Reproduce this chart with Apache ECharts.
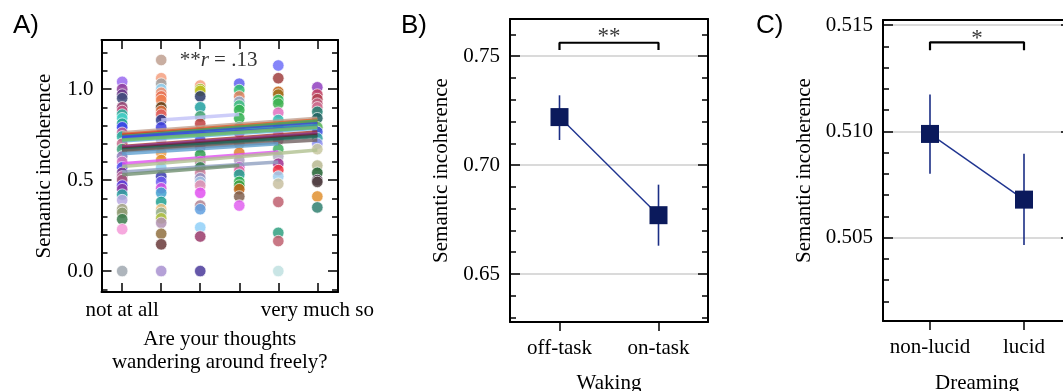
<!DOCTYPE html>
<html>
<head>
<meta charset="utf-8">
<script src="https://cdn.jsdelivr.net/npm/echarts@6/dist/echarts.min.js"></script>
<style>
  html, body { margin: 0; padding: 0; background: #fff; }
  #chart { width: 1063px; height: 391px; }
</style>
</head>
<body>
<div id="chart"></div>
<script>
// ---- panel A: per-participant ratings (6 scale levels) ----
const scaleLevels = [0, 1, 2, 3, 4, 5];
const scaleLabels = { 0: "not at all", 5: "very much so" };

const dotValues = [
  [1.04, 1.0, 0.97, 0.95, 0.9, 0.88, 0.86, 0.84, 0.81, 0.79, 0.76, 0.74, 0.7, 0.67, 0.63, 0.6, 0.57, 0.54, 0.52, 0.5, 0.47, 0.45, 0.42, 0.39, 0.34, 0.32, 0.285, 0.23, 0.0],
  [1.16, 1.06, 1.03, 1.0, 0.98, 0.96, 0.94, 0.9, 0.88, 0.86, 0.83, 0.79, 0.72, 0.65, 0.61, 0.57, 0.52, 0.49, 0.455, 0.43, 0.38, 0.34, 0.32, 0.29, 0.265, 0.205, 0.147, 0.0],
  [1.02, 1.0, 0.99, 0.96, 0.9, 0.85, 0.81, 0.76, 0.72, 0.68, 0.64, 0.6, 0.57, 0.54, 0.51, 0.49, 0.47, 0.43, 0.36, 0.34, 0.24, 0.19, 0.0],
  [1.03, 0.995, 0.96, 0.93, 0.91, 0.885, 0.84, 0.79, 0.76, 0.7, 0.65, 0.61, 0.57, 0.55, 0.53, 0.49, 0.47, 0.45, 0.41, 0.36],
  [1.13, 1.06, 0.985, 0.97, 0.94, 0.92, 0.87, 0.83, 0.79, 0.75, 0.72, 0.67, 0.63, 0.59, 0.555, 0.52, 0.48, 0.38, 0.21, 0.165, 0.0],
  [1.01, 0.97, 0.945, 0.92, 0.9, 0.875, 0.84, 0.79, 0.765, 0.73, 0.7, 0.67, 0.58, 0.54, 0.5, 0.49, 0.41, 0.35]
];
const dotColors = [
  ["#9b6bf0", "#8e3c9a", "#6a3a8a", "#3e4a7a", "#8e3b6b", "#c05080", "#2bb5a0", "#45d0c8", "#20a090", "#3b3bf0", "#c06090", "#25b0a0", "#c46a8a", "#3aa07a", "#8c7ab8", "#d070c0", "#4b4bef", "#7a3a8a", "#c070a0", "#a0507a", "#5a3ae0", "#8a3aa0", "#2aa0a0", "#b8a8e0", "#a0a080", "#8c9a70", "#3a7a4a", "#f59ad8", "#a0a8b0"],
  ["#c0a090", "#f5a080", "#a0a0a0", "#90d0f0", "#f09070", "#e87050", "#f08050", "#5a3a10", "#e07040", "#e06060", "#2a3a8a", "#4040e0", "#c8b8d8", "#f0a050", "#e0902a", "#90d0f0", "#3a3ab0", "#6a5af0", "#d050e0", "#40a0d0", "#20a090", "#f0c080", "#90b090", "#b0c040", "#b090b0", "#907040", "#6a3a3a", "#a890d0"],
  ["#f5a080", "#a0c020", "#c0c020", "#2a3a6a", "#20a0a0", "#40a070", "#c04040", "#b070b0", "#5050e0", "#9060a0", "#30a050", "#c080a0", "#308050", "#d080a0", "#9090c0", "#a0c0e0", "#e090b0", "#e050f0", "#b08090", "#60a0e0", "#90d0f8", "#9a3a6a", "#4a3a9a"],
  ["#6060f0", "#30c070", "#e08060", "#90a8c8", "#40c080", "#30b050", "#30b050", "#40b0a0", "#c060a0", "#a09080", "#e08030", "#b0a0c0", "#d040d0", "#e070a0", "#20a090", "#30b050", "#40a040", "#c06010", "#806050", "#e060f0"],
  ["#7070f8", "#a04040", "#c06010", "#a07020", "#30c060", "#40b050", "#e070c0", "#30c0b0", "#5050f0", "#d080c0", "#a05080", "#40b060", "#b0b0c0", "#a03090", "#f03040", "#a0d0f0", "#c8c0a0", "#c06070", "#30a080", "#c06070", "#c0e0e0"],
  ["#9040c0", "#c04060", "#b04050", "#c06080", "#d07090", "#208070", "#206060", "#50b050", "#4050e0", "#30a0a0", "#9090f0", "#c8c8a0", "#b8b890", "#206030", "#503050", "#504040", "#e09030", "#308070"]
];

// per-participant regression fits: start level/value, end level/value
const fitStartX = [0, 0, 0, 0, 0, 0, 0, 0, 0, 0, 0, 0, 0, 0, 0, 0, 0, 0, 0, 0, 1];
const fitStartY = [0.76, 0.75, 0.745, 0.74, 0.735, 0.725, 0.73, 0.715, 0.72, 0.685, 0.68, 0.675, 0.67, 0.665, 0.66, 0.645, 0.59, 0.575, 0.545, 0.53, 0.83];
const fitEndX = [5, 5, 5, 5, 5, 5, 5, 5, 5, 5, 5, 5, 5, 5, 5, 4, 4, 5, 4, 3, 3];
const fitEndY = [0.84, 0.83, 0.82, 0.825, 0.81, 0.8, 0.79, 0.785, 0.79, 0.765, 0.755, 0.75, 0.745, 0.74, 0.72, 0.7, 0.655, 0.665, 0.6, 0.58, 0.86];
const fitColors = ["#c0a090", "#e06030", "#d03030", "#40b060", "#3050e0", "#30a0a0", "#4040f0", "#60b0e0", "#70c060", "#a03030", "#9040a0", "#7a2a5a", "#503030", "#207060", "#706060", "#60a0d0", "#e050f0", "#b0c090", "#90a0c0", "#709070", "#c0c0f8"];
const rText = [2.47, 1.16];

// ---- panel B: waking ----
const wakingCats = ["off-task", "on-task"];
const wakingMean = [0.722, 0.677];
const wakingLow = [0.7115, 0.663];
const wakingHigh = [0.732, 0.691];
const wakingBracket = [0.7528, 0.7561];
const wakingStarY = 0.7589;
const wakingTicks = [0.65, 0.70, 0.75];

// ---- panel C: dreaming ----
const dreamCats = ["non-lucid", "lucid"];
const dreamMean = [0.50988, 0.50679];
const dreamLow = [0.50801, 0.50466];
const dreamHigh = [0.51173, 0.50895];
const dreamBracket = [0.51382, 0.51419];
const dreamStarY = 0.51434;
const dreamTicks = [0.505, 0.510, 0.515];

const scoreTicks = [0, 0.5, 1.0];

const SERIF = "'Liberation Serif', 'Times New Roman', serif";
const BLACK = "#000";

function range(a, b, step) {
  const out = [];
  const n = Math.round((b - a) / step);
  for (let i = 0; i <= n; i++) out.push(+(a + i * step).toFixed(6));
  return out;
}

const panels = [
  { grid: { left: 101.5, top: 40, width: 236.5, height: 252 },
    xMin: -0.53, xMax: 5.53, yMin: -0.115, yMax: 1.27,
    xTicks: scaleLevels, xLabelVals: [0, 5], xLabel: v => scaleLabels[v],
    xInside: true, topTicks: true, xMargin: 8,
    xName: "Are your thoughts\nwandering around freely?", xNameGap: 36,
    yMajor: scoreTicks, yMinor: range(-0.1, 1.2, 0.1), yDigits: 1, yMargin: 8,
    yNameGap: 47, grid_lines: false },
  { grid: { left: 510, top: 19, width: 198, height: 303 },
    xMin: -0.5, xMax: 1.5, yMin: 0.628, yMax: 0.767,
    xTicks: [0, 1], xLabelVals: [0, 1], xLabel: v => wakingCats[v],
    xInside: false, topTicks: false, xMargin: 16,
    xName: "Waking", xNameGap: 50,
    yMajor: wakingTicks, yMinor: range(0.63, 0.76, 0.01), yDigits: 2, yMargin: 10,
    yNameGap: 58, grid_lines: true },
  { grid: { left: 883, top: 20, width: 188, height: 301 },
    xMin: -0.5, xMax: 1.5, yMin: 0.50108, yMax: 0.51524,
    xTicks: [0, 1], xLabelVals: [0, 1], xLabel: v => dreamCats[v],
    xInside: false, topTicks: false, xMargin: 16,
    xName: "Dreaming", xNameGap: 51,
    yMajor: dreamTicks, yMinor: range(0.502, 0.515, 0.001), yDigits: 3, yMargin: 10,
    yNameGap: 68, grid_lines: true }
];

const grids = [], xAxes = [], yAxes = [];
const lineStyle = { color: BLACK, width: 2 };
const tickStyle = { color: BLACK, width: 1.5 };
const axisFont = { fontFamily: SERIF, fontSize: 21, color: BLACK };

panels.forEach((p, g) => {
  grids.push(Object.assign({ outerBoundsMode: "none", containLabel: false }, p.grid));
  // bottom x
  xAxes.push({
    gridIndex: g, type: "value", min: p.xMin, max: p.xMax, position: "bottom",
    axisLine: { show: true, onZero: false, lineStyle },
    axisTick: { show: true, inside: p.xInside, length: 9, customValues: p.xTicks, lineStyle: tickStyle },
    axisLabel: Object.assign({ customValues: p.xLabelVals, formatter: p.xLabel, margin: p.xMargin }, axisFont),
    splitLine: { show: false },
    name: p.xName, nameLocation: "middle", nameGap: p.xNameGap, nameMoveOverlap: false,
    nameTextStyle: Object.assign({ lineHeight: 23 }, axisFont)
  });
  // top x (frame)
  xAxes.push({
    gridIndex: g, type: "value", min: p.xMin, max: p.xMax, position: "top",
    axisLine: { show: true, onZero: false, lineStyle },
    axisTick: { show: p.topTicks, inside: true, length: 9, customValues: p.xTicks, lineStyle: tickStyle },
    axisLabel: { show: false }, splitLine: { show: false }
  });
  // left major
  yAxes.push({
    gridIndex: g, type: "value", min: p.yMin, max: p.yMax, position: "left",
    axisLine: { show: true, onZero: false, lineStyle },
    axisTick: { show: true, inside: true, length: 10, customValues: p.yMajor, lineStyle: tickStyle },
    axisLabel: Object.assign({ customValues: p.yMajor, formatter: v => v.toFixed(p.yDigits), margin: p.yMargin }, axisFont),
    splitLine: { show: p.grid_lines, lineStyle: { color: "#dadada", width: 2 } },
    name: "Semantic incoherence", nameLocation: "middle", nameGap: p.yNameGap, nameMoveOverlap: false,
    nameTextStyle: axisFont
  });
  // left minor
  yAxes.push({
    gridIndex: g, type: "value", min: p.yMin, max: p.yMax, position: "left",
    axisLine: { show: false, onZero: false },
    axisTick: { show: true, inside: true, length: 6, customValues: p.yMinor, lineStyle: tickStyle },
    axisLabel: { show: false }, splitLine: { show: false }
  });
  // right major
  yAxes.push({
    gridIndex: g, type: "value", min: p.yMin, max: p.yMax, position: "right",
    axisLine: { show: true, onZero: false, lineStyle },
    axisTick: { show: true, inside: true, length: 10, customValues: p.yMajor, lineStyle: tickStyle },
    axisLabel: { show: false }, splitLine: { show: false }
  });
  // right minor
  yAxes.push({
    gridIndex: g, type: "value", min: p.yMin, max: p.yMax, position: "right",
    axisLine: { show: false, onZero: false },
    axisTick: { show: true, inside: true, length: 6, customValues: p.yMinor, lineStyle: tickStyle },
    axisLabel: { show: false }, splitLine: { show: false }
  });
});

const series = [];

// panel A dots
const dotData = [];
scaleLevels.forEach((lvl, i) => {
  dotValues[i].forEach((v, j) => {
    dotData.push({ value: [lvl, v], itemStyle: { color: dotColors[i][j] } });
  });
});
series.push({
  type: "scatter", xAxisIndex: 0, yAxisIndex: 0, data: dotData,
  symbolSize: 11.5, z: 2,
  itemStyle: { opacity: 0.85, borderColor: "#fff", borderWidth: 0.8 }
});
// panel A fit lines
fitStartX.forEach((x0, i) => {
  series.push({
    type: "line", xAxisIndex: 0, yAxisIndex: 0, showSymbol: false, symbol: "none", z: 3,
    data: [[x0, fitStartY[i]], [fitEndX[i], fitEndY[i]]],
    lineStyle: { color: fitColors[i], width: 3.5, opacity: 0.8 }
  });
});
// r annotation
series.push({
  type: "scatter", xAxisIndex: 0, yAxisIndex: 0, data: [rText], symbolSize: 1, z: 5,
  itemStyle: { color: "rgba(0,0,0,0)" },
  label: {
    show: true, position: "inside",
    formatter: "{n|**}{i|r}{n| = .13}",
    rich: {
      n: { fontFamily: SERIF, fontSize: 21, color: BLACK },
      i: { fontFamily: SERIF, fontSize: 21, fontStyle: "italic", color: BLACK }
    }
  }
});

function meanPanel(g, means, lows, highs, bracket, starY, stars) {
  const xi = g * 2, yi = g * 4;
  series.push({
    type: "custom", xAxisIndex: xi, yAxisIndex: yi, z: 3,
    data: lows.map((lo, i) => [i, lo, highs[i]]),
    encode: { x: 0, y: [1, 2] },
    renderItem: (params, api) => {
      const a = api.coord([api.value(0), api.value(1)]);
      const b = api.coord([api.value(0), api.value(2)]);
      return { type: "line", shape: { x1: a[0], y1: a[1], x2: b[0], y2: b[1] },
        style: { stroke: "#1b2e85", lineWidth: 1.6 } };
    }
  });
  series.push({
    type: "line", xAxisIndex: xi, yAxisIndex: yi, z: 4,
    data: means.map((m, i) => [i, m]),
    symbol: "rect", symbolSize: 18, showSymbol: true,
    itemStyle: { color: "#0b1a5c" },
    lineStyle: { color: "#1f3490", width: 1.4 }
  });
  series.push({
    type: "line", xAxisIndex: xi, yAxisIndex: yi, z: 4, symbol: "none",
    data: [[0, bracket[0]], [0, bracket[1]], [1, bracket[1]], [1, bracket[0]]],
    lineStyle: { color: BLACK, width: 2.2 }
  });
  series.push({
    type: "scatter", xAxisIndex: xi, yAxisIndex: yi, z: 5, symbolSize: 1,
    data: [[0.5, starY]], itemStyle: { color: "rgba(0,0,0,0)" },
    label: { show: true, position: "inside", formatter: stars, fontFamily: SERIF, fontSize: 23, color: BLACK }
  });
}
meanPanel(1, wakingMean, wakingLow, wakingHigh, wakingBracket, wakingStarY, "**");
meanPanel(2, dreamMean, dreamLow, dreamHigh, dreamBracket, dreamStarY, "*");

const titleFont = { fontFamily: "'Liberation Sans', Arial, sans-serif", fontSize: 26, fontWeight: "normal", color: BLACK };
const option = {
  animation: false,
  backgroundColor: "#fff",
  title: [
    { text: "A)", left: 8, top: 8, textStyle: titleFont },
    { text: "B)", left: 396, top: 8, textStyle: titleFont },
    { text: "C)", left: 751, top: 8, textStyle: titleFont }
  ],
  grid: grids,
  xAxis: xAxes,
  yAxis: yAxes,
  series
};

const chart = echarts.init(document.getElementById("chart"), null, { renderer: "canvas" });
chart.setOption(option);
</script>
</body>
</html>
